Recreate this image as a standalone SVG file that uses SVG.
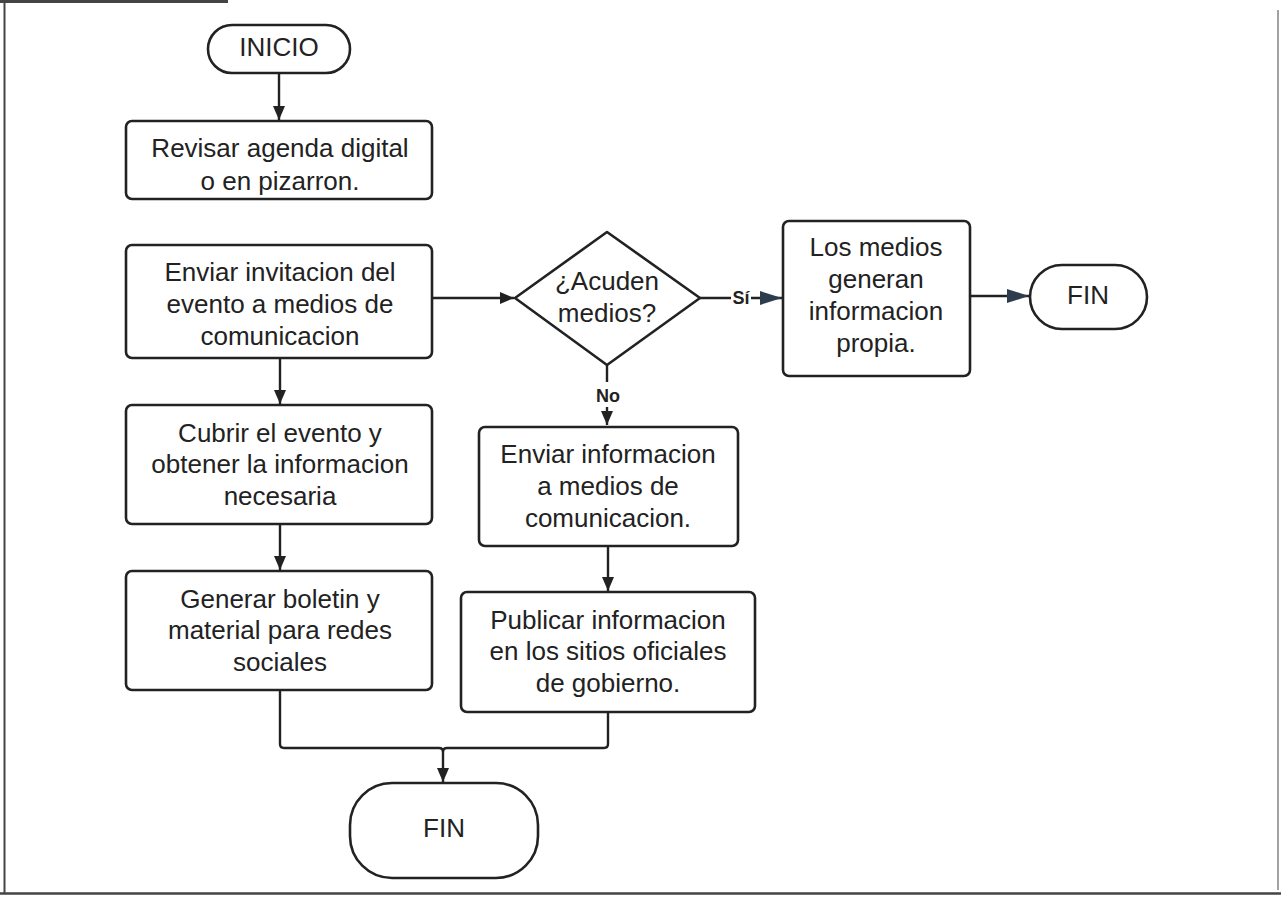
<svg xmlns="http://www.w3.org/2000/svg" width="1281" height="897" viewBox="0 0 1281 897">
  <style>
    .shape { fill: #ffffff; stroke: #222222; stroke-width: 2.6; }
    .lbl { font-family: "Liberation Sans", Arial, sans-serif; font-size: 26px; fill: #222222; text-anchor: middle; }
    .small { font-family: "Liberation Sans", Arial, sans-serif; font-size: 18px; font-weight: bold; fill: #222222; text-anchor: middle; }
    .wire { fill: none; stroke: #222222; stroke-width: 2.4; }
    .frame { stroke: #444444; fill: none; }
  </style>
  <defs>
    <marker id="arrow" viewBox="0 0 14 12" refX="14" refY="6" markerWidth="14" markerHeight="12" markerUnits="userSpaceOnUse" orient="auto">
      <path d="M0,0 L14,6 L0,12 Z" fill="#222222"/>
    </marker>
    <marker id="arrowBlue" viewBox="0 0 22 14" refX="22" refY="7" markerWidth="22" markerHeight="14" markerUnits="userSpaceOnUse" orient="auto">
      <path d="M0,0 L22,7 L0,14 Z" fill="#2e3d4d"/>
    </marker>
  </defs>

  <rect x="0" y="0" width="1281" height="897" fill="#ffffff"/>

  <!-- page frame -->
  <g id="frame">
    <line class="frame" x1="0" y1="1.5" x2="228" y2="1.5" stroke-width="3" stroke="#777777"/>
    <line class="frame" x1="4.5" y1="3" x2="4.5" y2="893" stroke-width="2"/>
    <line class="frame" x1="0" y1="893.5" x2="1281" y2="893.5" stroke-width="2.5"/>
    <line class="frame" x1="1278" y1="10" x2="1278" y2="890" stroke-width="1" stroke="#cccccc"/>
  </g>

  <!-- connectors -->
  <g id="connectors">
    <line class="wire" x1="279" y1="73" x2="279" y2="120" marker-end="url(#arrow)"/>
    <line class="wire" x1="432" y1="298" x2="514" y2="298" marker-end="url(#arrow)"/>
    <path class="wire" d="M700,298 H731 M751,298 H782" marker-end="url(#arrowBlue)"/>
    <line class="wire" x1="970" y1="296" x2="1029" y2="296" marker-end="url(#arrowBlue)"/>
    <path class="wire" d="M607,365 V382"/>
    <line class="wire" x1="607" y1="407" x2="607" y2="425" marker-end="url(#arrow)"/>
    <line class="wire" x1="608" y1="546" x2="608" y2="591" marker-end="url(#arrow)"/>
    <line class="wire" x1="280" y1="358" x2="280" y2="404" marker-end="url(#arrow)"/>
    <line class="wire" x1="280" y1="524" x2="280" y2="570" marker-end="url(#arrow)"/>
    <path class="wire" d="M280,690 V744 Q280,748 284,748 H439 Q443,748 443,752 V782" marker-end="url(#arrow)"/>
    <path class="wire" d="M608,712 V744 Q608,748 604,748 H447 Q443,748 443,752"/>
    <text class="small" x="741" y="304">Sí</text>
    <text class="small" x="608" y="402">No</text>
  </g>

  <g id="inicio">
    <rect class="shape" x="208" y="25" width="142" height="48" rx="24"/>
    <text class="lbl" x="279" y="56">INICIO</text>
  </g>

  <g id="revisar">
    <rect class="shape" x="126" y="121" width="306" height="78" rx="6"/>
    <text class="lbl" x="280" y="157">Revisar agenda digital</text>
    <text class="lbl" x="280" y="190">o en pizarron.</text>
  </g>

  <g id="invitacion">
    <rect class="shape" x="126" y="245" width="306" height="113" rx="6"/>
    <text class="lbl" x="280" y="281">Enviar invitacion del</text>
    <text class="lbl" x="280" y="313">evento a medios de</text>
    <text class="lbl" x="280" y="345">comunicacion</text>
  </g>

  <g id="decision">
    <polygon class="shape" points="607,232 700,298 607,365 515,298" stroke-linejoin="round"/>
    <text class="lbl" x="607" y="290">¿Acuden</text>
    <text class="lbl" x="607" y="322">medios?</text>
  </g>

  <g id="propia">
    <rect class="shape" x="783" y="221" width="187" height="155" rx="6"/>
    <text class="lbl" x="876" y="256">Los medios</text>
    <text class="lbl" x="876" y="288">generan</text>
    <text class="lbl" x="876" y="320">informacion</text>
    <text class="lbl" x="876" y="352">propia.</text>
  </g>

  <g id="fin-derecha">
    <rect class="shape" x="1030" y="265" width="117" height="64" rx="32"/>
    <text class="lbl" x="1088" y="304">FIN</text>
  </g>

  <g id="cubrir">
    <rect class="shape" x="126" y="405" width="306" height="119" rx="6"/>
    <text class="lbl" x="280" y="442">Cubrir el evento y</text>
    <text class="lbl" x="280" y="473">obtener la informacion</text>
    <text class="lbl" x="280" y="505">necesaria</text>
  </g>

  <g id="enviar-info">
    <rect class="shape" x="479" y="427" width="259" height="119" rx="6"/>
    <text class="lbl" x="608" y="463">Enviar informacion</text>
    <text class="lbl" x="608" y="495">a medios de</text>
    <text class="lbl" x="608" y="527">comunicacion.</text>
  </g>

  <g id="boletin">
    <rect class="shape" x="126" y="571" width="306" height="119" rx="6"/>
    <text class="lbl" x="280" y="608">Generar boletin y</text>
    <text class="lbl" x="280" y="639">material para redes</text>
    <text class="lbl" x="280" y="671">sociales</text>
  </g>

  <g id="publicar">
    <rect class="shape" x="461" y="592" width="294" height="120" rx="6"/>
    <text class="lbl" x="608" y="629">Publicar informacion</text>
    <text class="lbl" x="608" y="660">en los sitios oficiales</text>
    <text class="lbl" x="608" y="692">de gobierno.</text>
  </g>

  <g id="fin-abajo">
    <rect class="shape" x="350" y="783" width="188" height="95" rx="42"/>
    <text class="lbl" x="444" y="837">FIN</text>
  </g>
</svg>
